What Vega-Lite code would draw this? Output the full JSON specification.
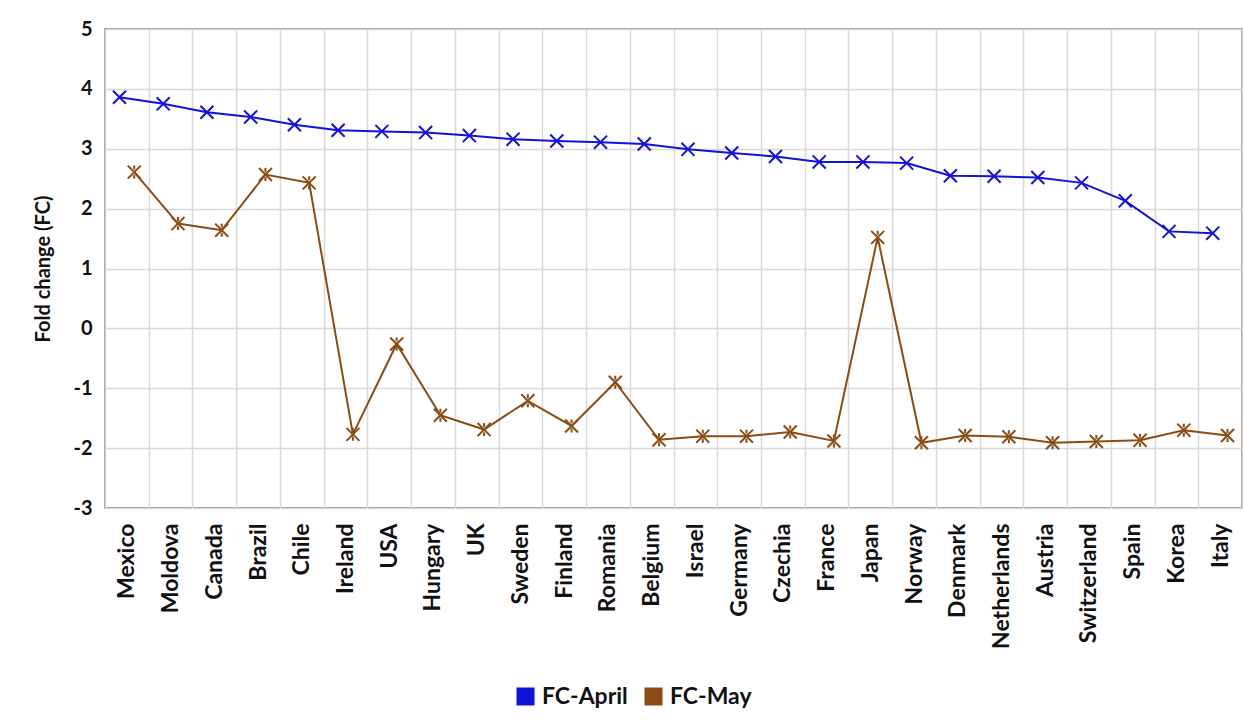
{
  "$schema": "https://vega.github.io/schema/vega-lite/v6.json",
  "width": 1137,
  "height": 479,
  "autosize": {"type": "none"},
  "padding": {"left": 105, "top": 29, "right": 2, "bottom": 219},
  "background": "white",
  "config": {
    "font": "Lato",
    "view": {"stroke": "#9A6A50", "strokeWidth": 1.5},
    "axis": {"gridColor": "#d9d9d9", "gridWidth": 1.5, "domain": false, "ticks": false, "labelColor": "#111", "titleColor": "#111", "labelFont": "Lato", "titleFont": "Lato", "labelFontWeight": "bold", "titleFontWeight": "bold"}
  },
  "data": {"values": [
    {"country": "Mexico", "series": "FC-April", "value": 3.86},
    {"country": "Moldova", "series": "FC-April", "value": 3.75},
    {"country": "Canada", "series": "FC-April", "value": 3.61},
    {"country": "Brazil", "series": "FC-April", "value": 3.53},
    {"country": "Chile", "series": "FC-April", "value": 3.40},
    {"country": "Ireland", "series": "FC-April", "value": 3.31},
    {"country": "USA", "series": "FC-April", "value": 3.29},
    {"country": "Hungary", "series": "FC-April", "value": 3.27},
    {"country": "UK", "series": "FC-April", "value": 3.22},
    {"country": "Sweden", "series": "FC-April", "value": 3.16},
    {"country": "Finland", "series": "FC-April", "value": 3.13},
    {"country": "Romania", "series": "FC-April", "value": 3.11},
    {"country": "Belgium", "series": "FC-April", "value": 3.08},
    {"country": "Israel", "series": "FC-April", "value": 2.99},
    {"country": "Germany", "series": "FC-April", "value": 2.93},
    {"country": "Czechia", "series": "FC-April", "value": 2.87},
    {"country": "France", "series": "FC-April", "value": 2.78},
    {"country": "Japan", "series": "FC-April", "value": 2.78},
    {"country": "Norway", "series": "FC-April", "value": 2.76},
    {"country": "Denmark", "series": "FC-April", "value": 2.55},
    {"country": "Netherlands", "series": "FC-April", "value": 2.54},
    {"country": "Austria", "series": "FC-April", "value": 2.52},
    {"country": "Switzerland", "series": "FC-April", "value": 2.43},
    {"country": "Spain", "series": "FC-April", "value": 2.13},
    {"country": "Korea", "series": "FC-April", "value": 1.62},
    {"country": "Italy", "series": "FC-April", "value": 1.59},
    {"country": "Mexico", "series": "FC-May", "value": 2.61},
    {"country": "Moldova", "series": "FC-May", "value": 1.75},
    {"country": "Canada", "series": "FC-May", "value": 1.64},
    {"country": "Brazil", "series": "FC-May", "value": 2.57},
    {"country": "Chile", "series": "FC-May", "value": 2.43},
    {"country": "Ireland", "series": "FC-May", "value": -1.77},
    {"country": "USA", "series": "FC-May", "value": -0.26},
    {"country": "Hungary", "series": "FC-May", "value": -1.45},
    {"country": "UK", "series": "FC-May", "value": -1.69},
    {"country": "Sweden", "series": "FC-May", "value": -1.21},
    {"country": "Finland", "series": "FC-May", "value": -1.63},
    {"country": "Romania", "series": "FC-May", "value": -0.90},
    {"country": "Belgium", "series": "FC-May", "value": -1.86},
    {"country": "Israel", "series": "FC-May", "value": -1.80},
    {"country": "Germany", "series": "FC-May", "value": -1.80},
    {"country": "Czechia", "series": "FC-May", "value": -1.73},
    {"country": "France", "series": "FC-May", "value": -1.88},
    {"country": "Japan", "series": "FC-May", "value": 1.52},
    {"country": "Norway", "series": "FC-May", "value": -1.91},
    {"country": "Denmark", "series": "FC-May", "value": -1.79},
    {"country": "Netherlands", "series": "FC-May", "value": -1.81},
    {"country": "Austria", "series": "FC-May", "value": -1.91},
    {"country": "Switzerland", "series": "FC-May", "value": -1.89},
    {"country": "Spain", "series": "FC-May", "value": -1.87},
    {"country": "Korea", "series": "FC-May", "value": -1.70},
    {"country": "Italy", "series": "FC-May", "value": -1.79}
  ]},
  "encoding": {
    "x": {
      "field": "country", "type": "nominal", "sort": null,
      "scale": {"paddingInner": 0, "paddingOuter": 0},
      "axis": {"title": null, "grid": true, "tickBand": "extent", "labelAngle": 270, "labelAlign": "right", "labelBaseline": "middle", "labelFontSize": 23, "labelPadding": 15}
    },
    "xOffset": {"field": "series", "type": "nominal", "scale": {"domain": ["FC-April", "FC-May"], "paddingInner": 0, "paddingOuter": 0.98}},
    "y": {
      "field": "value", "type": "quantitative",
      "scale": {"domain": [-3, 5], "nice": false, "zero": false},
      "axis": {"title": "Fold change (FC)", "values": [-3, -2, -1, 0, 1, 2, 3, 4, 5], "labelExpr": "toString(datum.value)", "labelFontSize": 20, "labelPadding": 13, "titleFontSize": 20, "titlePadding": 19, "grid": true}
    },
    "color": {
      "field": "series", "type": "nominal",
      "scale": {"domain": ["FC-April", "FC-May"], "range": ["#1212DD", "#8B4C14"]},
      "legend": {
        "title": null, "orient": "none", "direction": "horizontal", "legendX": 409, "legendY": 656,
        "symbolType": "square", "symbolSize": 81, "symbolStrokeWidth": 9, "symbolDash": [], "labelFontSize": 23, "labelFontWeight": "bold", "labelColor": "#111", "labelFont": "Lato", "labelOffset": 5, "columnPadding": 3
      }
    }
  },
  "layer": [
    {"mark": {"type": "line", "strokeWidth": 2}},
    {
      "transform": [{"filter": "datum.series === 'FC-April'"}],
      "mark": {"type": "point", "filled": false, "strokeWidth": 2, "size": 170, "opacity": 1, "shape": "M-1,-1L1,1M-1,1L1,-1"}
    },
    {
      "transform": [{"filter": "datum.series === 'FC-May'"}],
      "mark": {"type": "point", "filled": false, "strokeWidth": 2, "size": 170, "opacity": 1, "shape": "M-1,-1L1,1M-1,1L1,-1M0,-1L0,-0.4M0,0.4L0,1"}
    }
  ]
}
